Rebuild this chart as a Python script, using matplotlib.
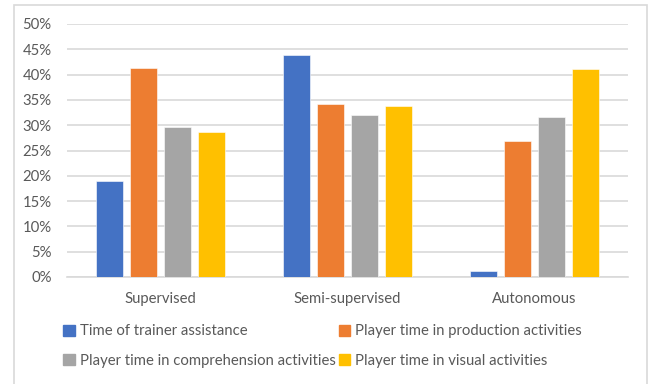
import matplotlib
matplotlib.use("Agg")
import matplotlib.pyplot as plt
from matplotlib.patches import Rectangle, Patch
import numpy as np

plt.rcParams['font.family'] = ['Lato', 'DejaVu Sans']

categories = ["Supervised", "Semi-supervised", "Autonomous"]
series_names = [
    "Time of trainer assistance",
    "Player time in production activities",
    "Player time in comprehension activities",
    "Player time in visual activities",
]
trainer = [19.0, 43.8, 1.1]
production = [41.4, 34.2, 26.8]
comprehension = [29.7, 32.1, 31.6]
visual = [28.7, 33.7, 41.2]
colors = ["#4472C4", "#ED7D31", "#A5A5A5", "#FFC000"]

text_col = "#595959"
grid_col = "#D9D9D9"

W, H = 649, 384
fig = plt.figure(figsize=(W / 100, H / 100), dpi=100)

# chart area border
fig.patches.append(Rectangle((14 / W, -0.1), (647 - 14) / W, 1.1 - 5 / H,
                             transform=fig.transFigure, fill=False,
                             edgecolor=grid_col, linewidth=1.2))

ax = fig.add_axes([67 / W, 1 - 277 / H, (628 - 67) / W, (277 - 24) / H])

x = np.arange(len(categories))
slot = 0.181
width = 0.142
all_series = [trainer, production, comprehension, visual]
for i, vals in enumerate(all_series):
    ax.bar(x + (i - 1.5) * slot, vals, width, color=colors[i],
           edgecolor="white", linewidth=0.4, zorder=3, label=series_names[i])

ax.set_xlim(-0.5, 2.5)
ax.set_ylim(0, 50)
ax.set_yticks(np.arange(0, 51, 5))
ax.set_yticklabels([f"{v}%" for v in range(0, 51, 5)])
ax.set_xticks(x)
ax.set_xticklabels(categories)
ax.yaxis.grid(True, color=grid_col, linewidth=1.2, zorder=0)
for s in ["top", "right", "left"]:
    ax.spines[s].set_visible(False)
ax.spines["bottom"].set_color(grid_col)
ax.spines["bottom"].set_linewidth(1.2)
ax.tick_params(axis="both", length=0, colors=text_col, labelsize=10.7)
ax.tick_params(axis="y", pad=11)
ax.tick_params(axis="x", pad=11)

# legend: two columns, row order blue/orange then gray/yellow
handles = [Patch(color=colors[k]) for k in range(4)]
order = [0, 2, 1, 3]
leg = fig.legend([handles[k] for k in order], [series_names[k] for k in order],
                 ncol=2, loc="upper left", bbox_to_anchor=(50 / W, 1 - 311 / H),
                 frameon=False, fontsize=10.7, handlelength=0.75, handleheight=0.75,
                 handletextpad=0.35, columnspacing=0.2, labelspacing=1.05,
                 labelcolor=text_col)

fig.savefig("out.png", dpi=100)
